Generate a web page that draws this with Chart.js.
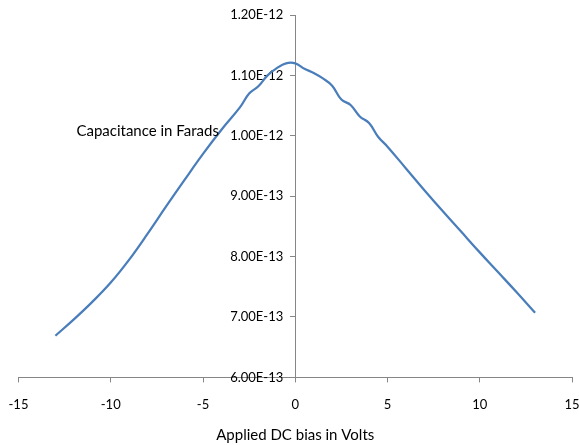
<!DOCTYPE html>
<html>
<head>
<meta charset="utf-8">
<script src="https://cdn.jsdelivr.net/npm/chart.js@4/dist/chart.umd.min.js"></script>
<style>
  body { margin: 0; background: #fff; }
  #wrap { width: 579px; height: 445px; }
</style>
</head>
<body>
<div id="wrap"><canvas id="chart" width="579" height="445"></canvas></div>
<script>
var volts = [-13, -12, -11, -10, -9, -8, -7, -6, -5, -4, -3, -2.5, -2, -1.5, -1, -0.5,
             0, 0.5, 1, 1.5, 2, 2.5, 3, 3.5, 4, 4.5, 5, 6, 7, 8, 9, 10, 11, 12, 13];
var farads = [6.69e-13, 6.96e-13, 7.25e-13, 7.57e-13, 7.95e-13, 8.38e-13, 8.83e-13, 9.27e-13,
              9.70e-13, 1.010e-12, 1.047e-12, 1.070e-12, 1.082e-12, 1.100e-12, 1.112e-12, 1.120e-12,
              1.120e-12, 1.111e-12, 1.104e-12, 1.095e-12, 1.083e-12, 1.060e-12, 1.051e-12, 1.032e-12,
              1.021e-12, 9.98e-13, 9.82e-13, 9.46e-13, 9.10e-13, 8.75e-13, 8.41e-13, 8.07e-13,
              7.74e-13, 7.41e-13, 7.07e-13];

var xTicks = [-15, -10, -5, 0, 5, 10, 15];
var yTicks = [6e-13, 7e-13, 8e-13, 9e-13, 1e-12, 1.1e-12, 1.2e-12];

var seriesLabel = 'Capacitance in Farads';
var xTitle = 'Applied DC bias in Volts';

var points = volts.map(function(v, i) { return { x: v, y: farads[i] }; });

// free floating series label like the Excel one
var floatingLabel = {
    id: 'floatingLabel',
    afterDraw: function(chart) {
        var ctx = chart.ctx;
        var xs = chart.scales.x, ys = chart.scales.y;
        ctx.save();
        ctx.font = '15px Lato';
        ctx.fillStyle = '#000';
        ctx.textAlign = 'center';
        ctx.textBaseline = 'middle';
        ctx.fillText(seriesLabel, xs.getPixelForValue(-8), ys.getPixelForValue(1.008e-12));
        ctx.restore();
    }
};

Chart.defaults.font.family = 'Lato';
Chart.defaults.color = '#000';

new Chart(document.getElementById('chart'), {
    type: 'line',
    data: {
        datasets: [{
            label: seriesLabel,
            data: points,
            borderColor: '#4a7ebb',
            borderWidth: 2.25,
            pointRadius: 0,
            fill: false,
            tension: 0.4
        }]
    },
    options: {
        responsive: false,
        animation: false,
        layout: { padding: { left: 0, top: 15, right: 0, bottom: 2 } },
        plugins: {
            legend: { display: false },
            tooltip: { enabled: false }
        },
        scales: {
            x: {
                type: 'linear',
                position: 'bottom',
                min: -15,
                max: 15,
                afterBuildTicks: function(scale) {
                    scale.ticks = xTicks.map(function(v) { return { value: v }; });
                },
                afterFit: function(scale) {
                    // keep the side margins like the original
                    scale.paddingLeft = 18.5;
                    scale.paddingRight = 7;
                },
                grid: { drawOnChartArea: false, drawTicks: true, tickLength: 5, color: '#868686' },
                border: { color: '#868686', width: 1 },
                ticks: { font: { size: 13 }, padding: 15, maxRotation: 0 },
                title: { display: true, text: xTitle, font: { size: 15, lineHeight: 1 }, padding: { top: 0, bottom: 0 } }
            },
            y: {
                type: 'linear',
                position: { x: 0 },
                min: 6e-13,
                max: 1.2e-12,
                afterBuildTicks: function(scale) {
                    scale.ticks = yTicks.map(function(v) { return { value: v }; });
                    // labels of a mid-chart axis sit right on the line, push them left
                    if (!scale._shiftedLabels) {
                        var baseDraw = scale.drawLabels;
                        scale.drawLabels = function(area) {
                            this.ctx.save();
                            this.ctx.translate(-12, 0);
                            baseDraw.call(this, area);
                            this.ctx.restore();
                        };
                        scale._shiftedLabels = true;
                    }
                },
                grid: { drawOnChartArea: false, drawTicks: true, tickLength: 5, color: '#868686' },
                border: { color: '#868686', width: 1 },
                ticks: {
                    font: { size: 13 },
                    callback: function(value) { return value.toExponential(2).toUpperCase(); }
                }
            }
        }
    },
    plugins: [floatingLabel]
});
</script>
</body>
</html>
